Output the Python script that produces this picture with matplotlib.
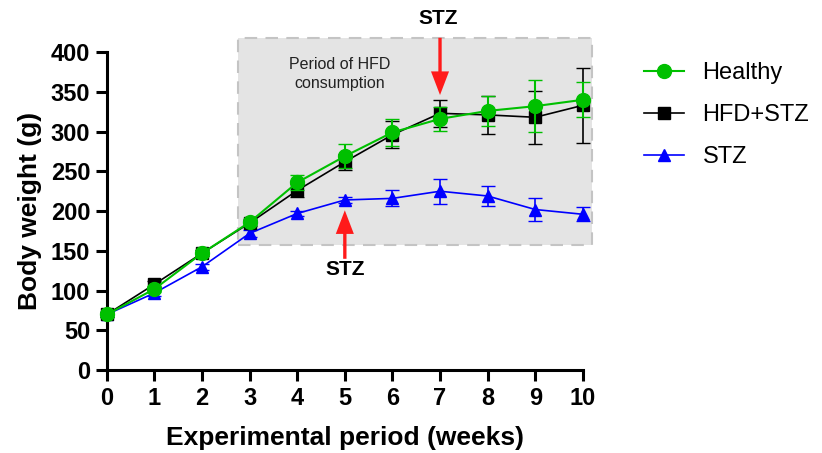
import numpy as np
import matplotlib.pyplot as plt
from matplotlib.patches import Rectangle
from matplotlib.lines import Line2D

plt.rcParams['font.family'] = ['Liberation Sans', 'DejaVu Sans']

weeks = [0, 1, 2, 3, 4, 5, 6, 7, 8, 9, 10]
healthy = [70, 102, 147, 186, 236, 269, 299, 316, 326, 332, 340]
healthy_err = [3, 4, 4, 4, 10, 15, 17, 15, 19, 33, 22]
hfd_stz = [70, 108, 147, 185, 226, 262, 296, 323, 321, 318, 333]
hfd_stz_err = [3, 4, 4, 4, 8, 10, 17, 17, 24, 33, 47]
stz = [70, 97, 130, 172, 197, 214, 216, 225, 219, 202, 196]
stz_err = [3, 4, 4, 4, 3, 4, 10, 16, 13, 14, 9]

green = '#00c000'
blue = '#0000ff'

fig = plt.figure(figsize=(8.22, 4.53), dpi=100)
ax = fig.add_axes([0.130, 0.183, 0.579, 0.702])

# shaded HFD period
ax.add_patch(Rectangle((2.75, 157), 7.45, 261, facecolor='#e4e4e4', edgecolor='#c4c4c4',
                       linestyle=(0, (6, 4)), linewidth=1.5, clip_on=False, zorder=0))
ax.text(4.9, 372, 'Period of HFD\nconsumption', ha='center', va='center', fontsize=11.5,
        color='#222222', linespacing=1.35)

ax.errorbar(weeks, stz, yerr=stz_err, color=blue, marker='^', markersize=9,
            linewidth=1.2, capsize=5, elinewidth=1.2, clip_on=False, zorder=3)
ax.errorbar(weeks, hfd_stz, yerr=hfd_stz_err, color='black', marker='s', markersize=8,
            linewidth=1.2, capsize=5, elinewidth=1.2, clip_on=False, zorder=4)
ax.errorbar(weeks, healthy, yerr=healthy_err, color=green, marker='o', markersize=10,
            linewidth=1.5, capsize=5, elinewidth=1.5, clip_on=False, zorder=5)

# STZ injection arrows
arrow = dict(facecolor='#ff1a1a', edgecolor='none', width=2.4, headwidth=13,
             headlength=17, shrink=0)
ax.annotate('', xy=(7, 346), xytext=(7, 418), annotation_clip=False, arrowprops=arrow, zorder=6)
ax.text(6.97, 442, 'STZ', ha='center', va='center', fontsize=15, fontweight='bold')
ax.annotate('', xy=(5, 201), xytext=(5, 140), annotation_clip=False, arrowprops=arrow, zorder=6)
ax.text(5, 126, 'STZ', ha='center', va='center', fontsize=15, fontweight='bold')

ax.set_xlim(0, 10)
ax.set_ylim(0, 400)
ax.set_xticks(weeks)
ax.set_yticks(range(0, 401, 50))
for s in ['top', 'right']:
    ax.spines[s].set_visible(False)
for s in ['left', 'bottom']:
    ax.spines[s].set_linewidth(2.2)
ax.tick_params(width=2.2, length=8, labelsize=17, pad=4)
for lbl in ax.get_xticklabels() + ax.get_yticklabels():
    lbl.set_fontweight('bold')
ax.set_xlabel('Experimental period (weeks)', fontsize=19, fontweight='bold', labelpad=12)
ax.set_ylabel('Body weight (g)', fontsize=19, fontweight='bold', labelpad=6)

handles = [Line2D([], [], color=green, marker='o', markersize=10, linewidth=1.5),
           Line2D([], [], color='black', marker='s', markersize=8, linewidth=1.2),
           Line2D([], [], color=blue, marker='^', markersize=9, linewidth=1.2)]
fig.legend(handles, ['Healthy', 'HFD+STZ', 'STZ'], loc='upper left',
           bbox_to_anchor=(0.757, 0.91), frameon=False, fontsize=17, handlelength=1.7,
           labelspacing=0.85, handletextpad=0.8)

fig.savefig('out.png', dpi=100)
